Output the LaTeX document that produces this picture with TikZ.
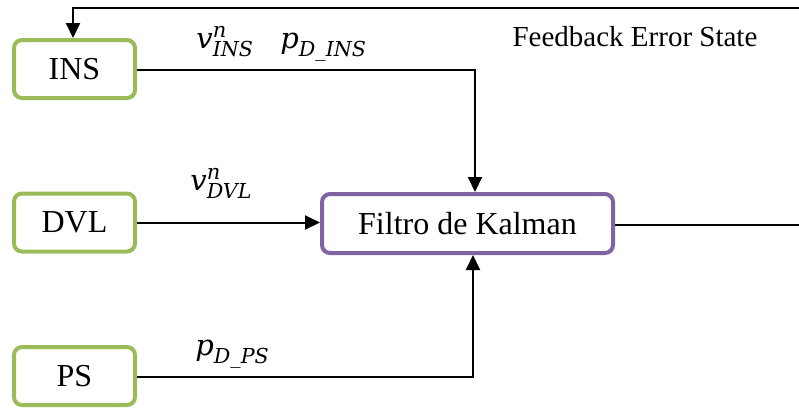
\documentclass[tikz,border=0pt]{standalone}
\usepackage{fontspec}
\setmainfont{Liberation Serif}
\newfontfamily\symfont{DejaVu Serif}
\usetikzlibrary{arrows.meta}
\definecolor{sensorgreen}{RGB}{155,187,89}
\definecolor{filterpurple}{RGB}{128,100,162}
% italic symbol with optional superscript (#2) and subscript (#3)
\newcommand{\sym}[3]{{\symfont\itshape
  \fontsize{14.5}{16}\selectfont #1%
  \rlap{\raisebox{5.5pt}{\fontsize{10.5}{12}\selectfont #2}}%
  \raisebox{-4pt}{\fontsize{10.3}{12}\selectfont #3}}}
\tikzset{
  sensor/.style={draw=sensorgreen, line width=2pt, rounded corners=4pt,
    minimum width=60.5pt, minimum height=29pt, inner sep=0pt,
    font=\rmfamily\fontsize{16}{18}\selectfont},
  filterbox/.style={draw=filterpurple, line width=2pt, rounded corners=4pt,
    minimum width=145.5pt, minimum height=29.5pt, inner sep=0pt,
    font=\rmfamily\fontsize{16}{18}\selectfont},
  link/.style={line width=1pt},
  arrowlink/.style={line width=1pt, -{Triangle[length=7.5pt,width=7pt]}},
  lbl/.style={inner sep=0pt, anchor=base west}
}
\begin{document}
\begin{tikzpicture}[x=0.5pt, y=-0.5pt]
  \useasboundingbox (0,0) rectangle (799,409);
  % blocks
  \node[sensor] (ins) at (74.5,69) {INS};
  \node[sensor] (dvl) at (74.5,222.5) {DVL};
  \node[sensor] (ps)  at (74.5,376) {PS};
  \node[filterbox] (kf) at (467.5,223.5) {Filtro de Kalman};
  % free ends on the right
  \coordinate (fbR) at (799,8);
  \coordinate (outR) at (799,225);
  % sensor links into the filter
  \draw[arrowlink] (ins.east |- 0,70) -- (475,70) -- (kf.north -| 475,0);
  \draw[arrowlink] (dvl.east) -- (kf.west |- dvl.east);
  \draw[arrowlink] (ps.east |- 0,377) -- (473,377) -- (kf.south -| 473,0);
  % filter output and feedback loop
  \draw[link] (kf.east |- outR) -- (outR);
  \draw[arrowlink] (fbR) -- (73,8) -- (ins.north -| 73,0);
  % labels
  \node[lbl] (lvins) at (196,48) {\sym{v}{n}{INS}};
  \node[lbl] (lpins) at (280,48) {\sym{p}{}{D\_INS}};
  \node[lbl] (lvdvl) at (190,190) {\sym{v}{n}{DVL}};
  \node[lbl] (lpps) at (195,355) {\sym{p}{}{D\_PS}};
  \node[inner sep=0pt, font=\rmfamily\fontsize{14.5}{16}\selectfont] (fbtext) at (635,37) {Feedback Error State};
\end{tikzpicture}
\end{document}
